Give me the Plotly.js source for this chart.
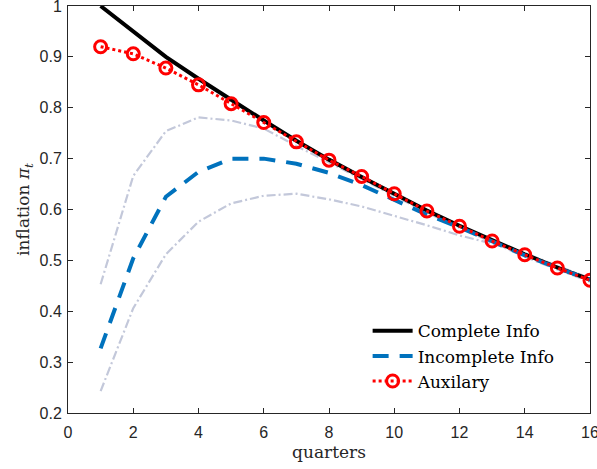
<!DOCTYPE html>
<html>
<head>
<meta charset="utf-8">
<script src="https://cdn.plot.ly/plotly-3.0.1.min.js"></script>
<style>html,body{margin:0;padding:0;background:#fff;}#chart{width:597px;height:469px;}</style>
</head>
<body>
<div id="chart"></div>
<script>
const quarters = [1,2,3,4,5,6,7,8,9,10,11,12,13,14,15,16];
const completeInfo = [1.0,0.949,0.900,0.857,0.815,0.775,0.735,0.698,0.664,0.631,0.598,0.568,0.539,0.512,0.486,0.462];
const incompleteInfo = [0.327,0.504,0.625,0.674,0.700,0.700,0.690,0.672,0.648,0.620,0.590,0.565,0.537,0.510,0.485,0.462];
const upperBand = [0.453,0.666,0.754,0.781,0.775,0.759,0.725,0.693,0.660,0.627,0.594,0.564,0.535,0.507,0.482,0.458];
const lowerBand = [0.243,0.406,0.512,0.576,0.612,0.627,0.631,0.620,0.606,0.588,0.569,0.549,0.533,0.514,0.490,0.465];
const auxilary = [0.920,0.906,0.878,0.845,0.808,0.771,0.733,0.697,0.665,0.631,0.597,0.567,0.538,0.511,0.485,0.461];
const xTicks = [0,2,4,6,8,10,12,14,16];
const yTicks = [0.2,0.3,0.4,0.5,0.6,0.7,0.8,0.9,1];
const yTickText = ['0.2','0.3','0.4','0.5','0.6','0.7','0.8','0.9','1'];

const bandColor = '#c3c8da';
const traces = [
  {x: quarters, y: upperBand, mode:'lines', showlegend:false, line:{color:bandColor, width:2.2, dash:'9px,3px,2px,3px'}},
  {x: quarters, y: lowerBand, mode:'lines', showlegend:false, line:{color:bandColor, width:2.2, dash:'9px,3px,2px,3px'}},
  {x: quarters, y: completeInfo, mode:'lines', name:'Complete Info', line:{color:'#000000', width:4}},
  {x: quarters, y: incompleteInfo, mode:'lines', name:'Incomplete Info', line:{color:'#0072bd', width:4, dash:'16px,11px'}},
  {x: quarters, y: auxilary, mode:'lines+markers', name:'Auxilary', line:{color:'#ff0000', width:3, dash:'dot'},
   marker:{symbol:'circle-open', size:12, color:'#ff0000', line:{width:3, color:'#ff0000'}}}
];

const serif = 'DejaVu Serif, serif';
const tickFont = {family:'Liberation Sans, Arial, sans-serif', size:16, color:'#262626'};
const layout = {
  width:597, height:469,
  margin:{l:68, r:7, t:6, b:56},
  paper_bgcolor:'#fff', plot_bgcolor:'#fff',
  showlegend:true,
  legend:{x:0.574, y:0.245, xanchor:'left', yanchor:'top', bgcolor:'rgba(255,255,255,0)',
    font:{family:serif, size:17, color:'#000'}, tracegroupgap:0, itemwidth:40},
  xaxis:{range:[0,16], tickvals:xTicks, ticks:'inside', ticklen:5, tickcolor:'#262626',
    showline:true, linecolor:'#262626', linewidth:1, mirror:'ticks', showgrid:false, zeroline:false,
    tickfont:tickFont, ticklabeloverflow:'allow', ticklabelstandoff:5,
    title:{text:'quarters', font:{family:serif, size:17, color:'#262626'}, standoff:5}},
  yaxis:{range:[0.2,1], tickvals:yTicks, ticktext:yTickText,
    ticks:'inside', ticklen:5, tickcolor:'#262626',
    showline:true, linecolor:'#262626', linewidth:1, mirror:'ticks', showgrid:false, zeroline:false,
    tickfont:tickFont, ticklabeloverflow:'allow', ticklabelstandoff:2,
    title:{text:'inflation <i>π</i><sub><i>t</i></sub>', font:{family:serif, size:17, color:'#262626'}, standoff:5}}
};
Plotly.newPlot('chart', traces, layout, {displayModeBar:false, staticPlot:true});
</script>
</body>
</html>
